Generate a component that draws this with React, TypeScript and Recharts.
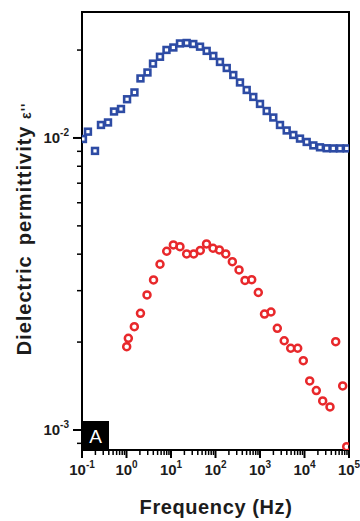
import { ScatterChart, Scatter, XAxis, YAxis, ReferenceArea } from "recharts";

// sample A: upper (blue squares) and lower (red circles) loss curves
const blueFreq = [
  0.105, 0.136, 0.196, 0.267, 0.384, 0.524, 0.752, 1.03, 1.51, 2.06, 2.96, 3.94,
  5.66, 7.92, 11.3, 15.9, 22.5, 31.7, 44.9, 63.4, 89.3, 126, 179, 251, 355, 503,
  707, 1000, 1414, 1990, 2814, 3981, 5602, 7923, 11200, 15800, 22300, 31500,
  44400, 62800, 88800,
];
const blueEps = [
  0.00992, 0.01051, 0.00903, 0.01108, 0.0113, 0.01232, 0.01257, 0.01357, 0.01432,
  0.01599, 0.01676, 0.01797, 0.01897, 0.02002, 0.02041, 0.02107, 0.02115, 0.02098,
  0.02054, 0.01987, 0.0191, 0.01821, 0.01736, 0.01643, 0.01549, 0.0146, 0.01382,
  0.01308, 0.01237, 0.01175, 0.01108, 0.01061, 0.01024, 0.00995, 0.00969, 0.00943,
  0.00929, 0.00922, 0.00921, 0.00921, 0.00921,
];

const redFreq = [
  1.01, 1.1, 1.5, 2.06, 2.89, 4.05, 5.66, 8.01, 11.3, 15.9, 22.5, 32.4, 45.5, 62.8,
  87.9, 122, 170, 239, 338, 460, 651, 916, 1262, 1767, 2448, 3499, 4897, 7036,
  9398, 13090, 18420, 25650, 37410, 50240, 72190, 88770,
];
const redEps = [
  0.001929, 0.002061, 0.002258, 0.002509, 0.0029, 0.003264, 0.003694, 0.004093,
  0.004301, 0.004243, 0.004006, 0.004006, 0.004119, 0.004335, 0.004191, 0.004135,
  0.004006, 0.00377, 0.003532, 0.003251, 0.003271, 0.002957, 0.002495, 0.002535,
  0.002229, 0.002021, 0.001905, 0.001905, 0.001727, 0.001472, 0.001364, 0.001257,
  0.001199, 0.002006, 0.001415, 0.000877,
];

const xMajor = [0.1, 1, 10, 100, 1000, 10000, 100000];
const minorSteps = [2, 3, 4, 5, 6, 7, 8, 9];
const yTicks = [
  0.0009, 0.001, 0.002, 0.003, 0.004, 0.005, 0.006, 0.007, 0.008, 0.009, 0.01, 0.02,
];
const xDomain = [0.1, 100000];
const yDomain = [0.000854, 0.027];

const xTicks = xMajor.flatMap((m) =>
  m < xDomain[1] ? [m, ...minorSteps.map((k) => k * m)] : [m]
);

const blueData = blueFreq.map((f, i) => ({ f, eps: blueEps[i] }));
const redData = redFreq.map((f, i) => ({ f, eps: redEps[i] }));

const FONT = "'Liberation Sans', Arial, sans-serif";
const INK = "#1c1c1c";
const BLUE = "#2d4ba4";
const RED = "#e8282b";

function isMajor(v: number) {
  const l = Math.log10(v);
  return Math.abs(l - Math.round(l)) < 1e-6;
}

function XTick(props: any) {
  const { x, y, payload } = props;
  const major = isMajor(payload.value);
  const exp = Math.round(Math.log10(payload.value));
  return (
    <g>
      <line x1={x} x2={x} y1={y} y2={y + (major ? 8 : 5)} stroke="#000" strokeWidth={major ? 2 : 1.5} />
      {major && (
        <text x={x} y={y + 25} textAnchor="middle" fontFamily={FONT} fontWeight="bold" fontSize={15} fill={INK}>
          10
          <tspan fontSize={10} dy={-7}>
            {exp}
          </tspan>
        </text>
      )}
    </g>
  );
}

function YTick(props: any) {
  const { x, y, payload } = props;
  const major = isMajor(payload.value);
  const exp = Math.round(Math.log10(payload.value));
  return (
    <g>
      <line x1={x - (major ? 9 : 5)} x2={x} y1={y} y2={y} stroke="#000" strokeWidth={major ? 2 : 1.5} />
      {major && (
        <text x={x - 13} y={y + 5} textAnchor="end" fontFamily={FONT} fontWeight="bold" fontSize={15} fill={INK}>
          10
          <tspan fontSize={10} dy={-7}>
            {exp}
          </tspan>
        </text>
      )}
    </g>
  );
}

const square = (p: any) => (
  <rect x={p.cx - 2.9} y={p.cy - 2.9} width={5.8} height={5.8} fill="#fff" stroke={BLUE} strokeWidth={2.6} />
);
const circle = (p: any) => (
  <circle cx={p.cx} cy={p.cy} r={3.5} fill="none" stroke={RED} strokeWidth={2.5} />
);

export default function App() {
  return (
    <div style={{ position: "absolute", left: 0, top: 0, background: "#fff" }}>
      <ScatterChart width={360} height={521} margin={{ top: 12, right: 11, bottom: 0, left: 0 }}>
        <XAxis
          dataKey="f"
          type="number"
          scale="log"
          domain={xDomain}
          ticks={xTicks}
          interval={0}
          allowDataOverflow
          axisLine={false}
          tickLine={false}
          tickSize={0}
          tickMargin={0}
          height={71}
          tick={<XTick />}
        />
        <YAxis
          dataKey="eps"
          type="number"
          scale="log"
          domain={yDomain}
          ticks={yTicks}
          interval={0}
          allowDataOverflow
          axisLine={false}
          tickLine={false}
          tickSize={0}
          tickMargin={0}
          width={82}
          tick={<YTick />}
        />
        <Scatter data={blueData} shape={square} isAnimationActive={false} />
        <Scatter data={redData} shape={circle} isAnimationActive={false} />
        <ReferenceArea
          x1={xDomain[0]}
          x2={xDomain[1]}
          y1={yDomain[0]}
          y2={yDomain[1]}
          fill="none"
          stroke="#000"
          strokeWidth={2}
        />
        <g>
          <rect x={82} y={421} width={27} height={29} fill="#000" />
          <text x={95.5} y={443} textAnchor="middle" fontFamily={FONT} fontSize={19} fill="#fff">
            A
          </text>
        </g>
        <text
          x={216}
          y={514}
          textAnchor="middle"
          fontFamily={FONT}
          fontWeight="bold"
          fontSize={20}
          letterSpacing={0.6}
          fill={INK}
        >
          Frequency (Hz)
        </text>
        <text
          x={31}
          y={229}
          transform="rotate(-90 31 229)"
          textAnchor="middle"
          fontFamily={FONT}
          fontWeight="bold"
          fontSize={20}
          letterSpacing={1}
          fill={INK}
        >
          Dielectric
          <tspan dx={10}>permittivity </tspan>
          <tspan fontSize={14}>ε''</tspan>
        </text>
      </ScatterChart>
    </div>
  );
}
